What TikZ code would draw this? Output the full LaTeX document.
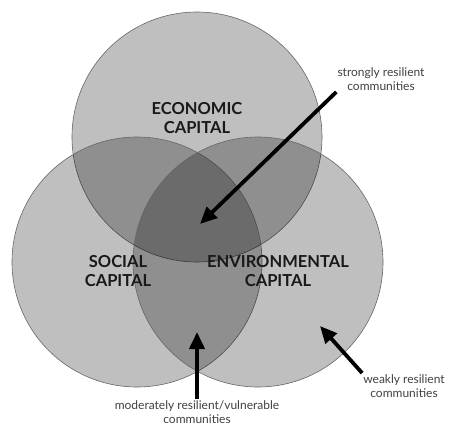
\documentclass[tikz,border=0pt]{standalone}
\usepackage{fontspec}
\setmainfont{Lato}
\usetikzlibrary{arrows.meta}
\tikzset{
  capital/.style={circle,minimum size=250pt,inner sep=0pt,draw=black!60,line width=0.6pt,
    fill=black,fill opacity=0.25,draw opacity=1},
  biglabel/.style={align=center,font=\fontsize{16.5}{19}\selectfont\bfseries,text=black!90},
  smalllabel/.style={align=center,font=\fontsize{12}{14.5}\selectfont,text=black!75,inner sep=1pt},
  bigarrow/.style={line width=3.8pt,-{Triangle[width=15pt,length=17pt]}}
}
\begin{document}
\begin{tikzpicture}[x=1pt,y=-1pt]
\useasboundingbox (0,0) rectangle (449,428);
% the three capitals
\node[capital] (econ) at (197,137) {};
\node[capital] (soc) at (137,262) {};
\node[capital] (env) at (258,262) {};
\node[biglabel] (econlbl) at (197,118) {ECONOMIC\\CAPITAL};
\node[biglabel] (soclbl) at (118,271) {SOCIAL\\CAPITAL};
\node[biglabel] (envlbl) at (278,271) {ENVIRONMENTAL\\CAPITAL};
% pointers
\node[smalllabel] (strong) at (381,79) {strongly resilient\\communities};
\node[smalllabel] (weak) at (404,386) {weakly resilient\\communities};
\node[smalllabel] (moderate) at (197,412) {moderately resilient/vulnerable\\communities};
\coordinate (core) at (200,224);
\coordinate (lens) at (197,332);
\coordinate (envonly) at (320,326);
\draw[bigarrow] (strong.south west) -- (core);
\draw[bigarrow] (moderate.north) -- (lens);
\draw[bigarrow] (weak.north west) -- (envonly);
\end{tikzpicture}
\end{document}
